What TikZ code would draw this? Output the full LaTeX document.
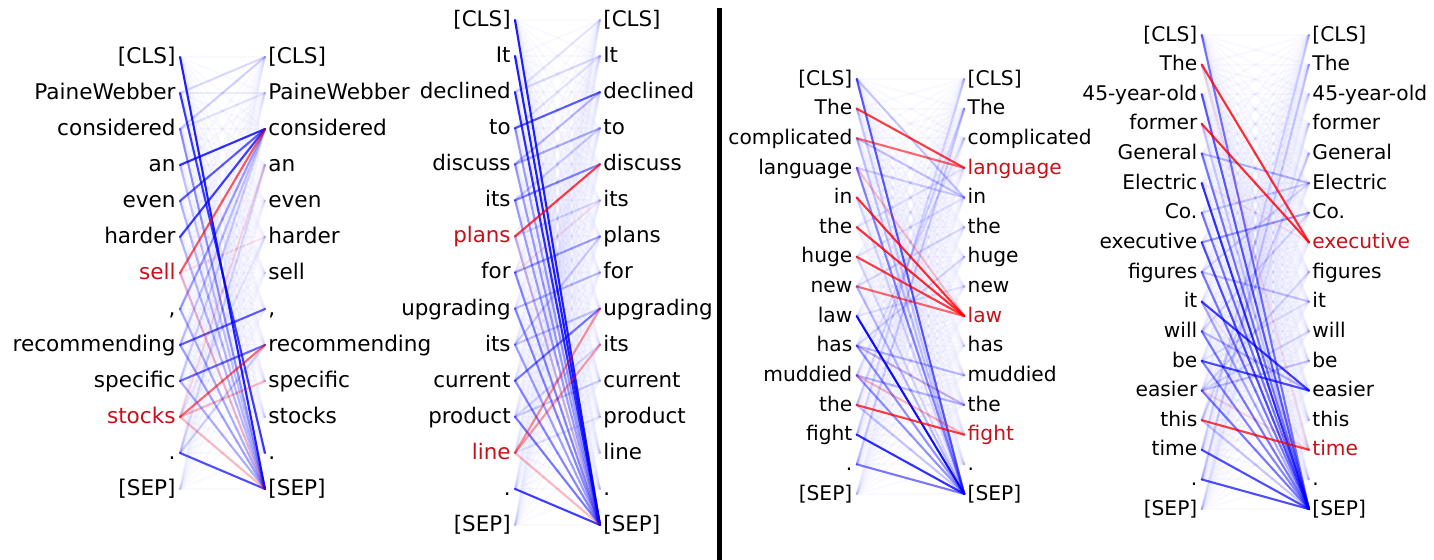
\documentclass[tikz,border=0pt]{standalone}
\usepackage{fontspec}
\setmainfont{DejaVu Sans}
\definecolor{hl}{RGB}{200,16,26}
\definecolor{lb}{RGB}{0,0,255}
\definecolor{lr}{RGB}{255,0,0}
\tikzset{
  tok/.style={inner sep=0pt},
  link/.style={line width=1.05pt, line cap=round},
  haze/.style={link, draw=lb, opacity=0.022},
}
% token column on the left: id, x, y0, dy, baseline drop, token/colour list
\newcommand\leftcol[6]{%
  \foreach \t/\c [count=\k from 0] in {#6}{%
    \coordinate (#1L\k) at (#2,{#3+\k*#4});
    \node[tok, text=\c, anchor=base east] (#1l\k) at ({#2-4},{#3+\k*#4+#5}) {\t};
  }}
% token column on the right
\newcommand\rightcol[6]{%
  \foreach \t/\c [count=\k from 0] in {#6}{%
    \coordinate (#1R\k) at (#2,{#3+\k*#4});
    \node[tok, text=\c, anchor=base west] (#1r\k) at ({#2+3},{#3+\k*#4+#5}) {\t};
  }}
% faint all-to-all attention: id, last index
\newcommand\hazeall[2]{%
  \foreach \a in {0,...,#2}{\foreach \b in {0,...,#2}{\draw[haze] (#1L\a) -- (#1R\b);}}}
% weighted attention links: id, colour, from/to/weight list
\newcommand\links[3]{%
  \foreach \a/\b/\o in {#3}{%
    \pgfmathsetmacro\wt{\o^1.3}%
    \draw[link, draw=#2, opacity=\wt] (#1L\a) -- (#1R\b);}}

\begin{document}
\begin{tikzpicture}[x=0.5pt, y=-0.5pt]
\fill[white] (0,0) rectangle (1434,560);
\useasboundingbox (0,0) rectangle (1434,560);

% ---------------- PaineWebber sentence ----------------
\begin{scope}[font=\fontsize{10.8}{12}\selectfont]
\leftcol{a}{180}{57}{36}{6.5}{{[CLS]}/black, PaineWebber/black, considered/black, an/black, even/black, harder/black, sell/hl, {,}/black, recommending/black, specific/black, stocks/hl, ./black, {[SEP]}/black}
\rightcol{a}{265}{57}{36}{6.5}{{[CLS]}/black, PaineWebber/black, considered/black, an/black, even/black, harder/black, sell/black, {,}/black, recommending/black, specific/black, stocks/black, ./black, {[SEP]}/black}
\end{scope}
\hazeall{a}{12}
\links{a}{lb}{1/0/0.2, 2/0/0.25, 1/1/0.1, 2/1/0.15, 3/12/0.3, 4/12/0.35, 5/12/0.35, 7/12/0.4, 8/12/0.45, 9/12/0.4, 6/12/0.15, 8/2/0.3, 9/2/0.25, 11/3/0.2, 11/8/0.25, 10/5/0.12, 2/12/0.5, 7/2/0.45, 8/7/0.7, 9/8/0.65, 11/12/0.75, 3/2/0.85, 4/2/0.7, 5/2/0.8, 1/11/0.8, 0/12/0.9}
\links{a}{lr}{10/3/0.2, 6/5/0.15, 6/12/0.3, 10/12/0.35, 10/9/0.35, 10/8/0.65, 6/2/0.7}

% ---------------- "It declined" sentence ----------------
\begin{scope}[font=\fontsize{10.7}{12}\selectfont]
\leftcol{b}{515}{20}{36.07}{6.5}{{[CLS]}/black, It/black, declined/black, to/black, discuss/black, its/black, plans/hl, for/black, upgrading/black, its/black, current/black, product/black, line/hl, ./black, {[SEP]}/black}
\rightcol{b}{600}{20}{36.07}{6.5}{{[CLS]}/black, It/black, declined/black, to/black, discuss/black, its/black, plans/black, for/black, upgrading/black, its/black, current/black, product/black, line/black, ./black, {[SEP]}/black}
\end{scope}
\hazeall{b}{14}
\links{b}{lb}{2/0/0.15, 2/1/0.2, 3/1/0.15, 5/3/0.25, 6/5/0.2, 9/6/0.25, 11/9/0.2, 12/11/0.15, 3/14/0.45, 4/14/0.45, 5/14/0.45, 6/14/0.3, 7/14/0.55, 8/14/0.55, 9/14/0.45, 10/14/0.55, 11/14/0.6, 4/3/0.4, 4/2/0.35, 5/4/0.55, 7/6/0.45, 8/7/0.35, 9/8/0.3, 11/10/0.25, 10/8/0.6, 3/2/0.7, 13/14/0.8, 0/14/0.9, 1/14/0.9, 2/14/0.85}
\links{b}{lr}{6/14/0.15, 7/5/0.15, 12/14/0.35, 12/9/0.45, 12/8/0.5, 6/4/0.8}

% ---------------- divider ----------------
\draw[line width=2.6pt] (719.5,8) -- (719.5,560);

% ---------------- "complicated language" sentence ----------------
\begin{scope}[font=\fontsize{10.1}{12}\selectfont]
\leftcol{c}{856.7}{79}{29.64}{6.1}{{[CLS]}/black, The/black, complicated/black, language/black, in/black, the/black, huge/black, new/black, law/black, has/black, muddied/black, the/black, fight/black, ./black, {[SEP]}/black}
\rightcol{c}{964.3}{79}{29.64}{6.1}{{[CLS]}/black, The/black, complicated/black, language/hl, in/black, the/black, huge/black, new/black, law/hl, has/black, muddied/black, the/black, fight/hl, ./black, {[SEP]}/black}
\end{scope}
\hazeall{c}{14}
\links{c}{lb}{13/1/0.25, 12/0/0.2, 11/1/0.2, 10/2/0.15, 7/5/0.2, 6/4/0.15, 9/6/0.2, 8/7/0.15, 5/3/0.15, 2/4/0.3, 0/4/0.3, 3/4/0.25, 9/10/0.35, 9/11/0.3, 10/11/0.35, 1/14/0.25, 2/14/0.3, 4/14/0.2, 6/14/0.2, 7/14/0.35, 11/14/0.3, 3/14/0.55, 9/14/0.5, 10/14/0.5, 13/14/0.6, 0/14/0.7, 12/14/0.85, 8/14/0.95}
\links{c}{lr}{9/11/0.15, 3/8/0.3, 10/12/0.35, 2/3/0.65, 7/8/0.65, 1/3/0.8, 6/8/0.8, 11/12/0.8, 4/8/0.85, 5/8/0.85}

% ---------------- "45-year-old" sentence ----------------
\begin{scope}[font=\fontsize{10.1}{12}\selectfont]
\leftcol{d}{1201.7}{35}{29.63}{6.1}{{[CLS]}/black, The/black, 45-year-old/black, former/black, General/black, Electric/black, Co./black, executive/black, figures/black, it/black, will/black, be/black, easier/black, this/black, time/black, ./black, {[SEP]}/black}
\rightcol{d}{1309}{35}{29.63}{6.1}{{[CLS]}/black, The/black, 45-year-old/black, former/black, General/black, Electric/black, Co./black, executive/hl, figures/black, it/black, will/black, be/black, easier/black, this/black, time/hl, ./black, {[SEP]}/black}
\end{scope}
\hazeall{d}{16}
\links{d}{lb}{15/1/0.25, 14/0/0.2, 13/4/0.2, 10/6/0.2, 8/5/0.2, 12/8/0.2, 11/9/0.15, 16/3/0.1, 4/5/0.35, 6/5/0.25, 8/9/0.3, 12/11/0.3, 12/10/0.2, 10/12/0.35, 7/6/0.45, 3/16/0.25, 13/16/0.3, 9/16/0.4, 11/16/0.55, 0/16/0.6, 4/16/0.6, 6/16/0.6, 8/16/0.6, 10/16/0.6, 12/16/0.6, 2/16/0.7, 7/16/0.75, 14/16/0.75, 15/16/0.75, 11/12/0.75, 9/12/0.8, 5/16/0.85}
\links{d}{lr}{9/14/0.1, 5/7/0.12, 1/14/0.15, 12/14/0.2, 13/14/0.8, 1/7/0.85, 3/7/0.85}
\end{tikzpicture}
\end{document}
